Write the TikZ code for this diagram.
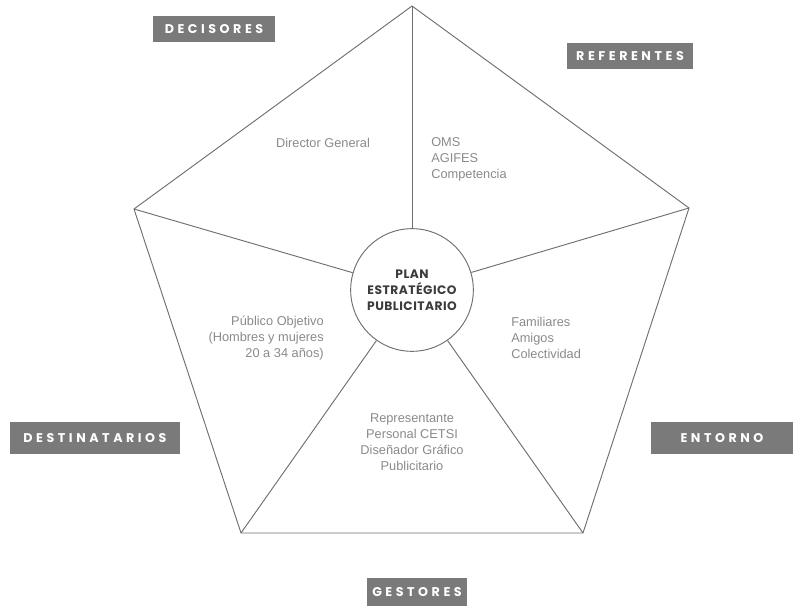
\documentclass[tikz,border=0pt]{standalone}
\usepackage{fontspec}
\setmainfont{Liberation Sans}
\newfontfamily\rolefont[LetterSpace=28]{Poppins}
\newfontfamily\titlefont[LetterSpace=4]{Poppins}
\usetikzlibrary{positioning}
\definecolor{boxgray}{HTML}{7A7A7A}
\definecolor{linegray}{HTML}{6E6E6E}
\definecolor{textgray}{HTML}{8A8A8A}
\definecolor{titlegray}{HTML}{3C3C3C}
\tikzset{%
  role/.style={rectangle, fill=boxgray, text=white, inner sep=0pt, minimum height=20pt,
    font=\rolefont\bfseries\fontsize{9.5}{11}\selectfont},
  % text inside the five areas
  member/.style={text=textgray, inner sep=0pt, font=\fontsize{9.6}{12}\selectfont},
  plan/.style={circle, draw=linegray, line width=0.7pt, fill=white, minimum size=92pt, inner sep=0pt,
    align=center, text=titlegray, font=\titlefont\bfseries\fontsize{9.2}{12}\selectfont},
  edge/.style={draw=linegray, line width=0.7pt}
}

\begin{document}
\begin{tikzpicture}[x=0.75pt, y=-0.75pt]
  \useasboundingbox (0,0) rectangle (804,609);

  % pentagon corners
  \coordinate (top) at (412,6);
  \coordinate (right) at (689,208);
  \coordinate (botright) at (583,533);
  \coordinate (botleft) at (241,533);
  \coordinate (left) at (134,209);

  \node[plan] (center) at (412,290) {PLAN\\ESTRATÉGICO\\PUBLICITARIO};

  \draw[edge] (top) -- (right) -- (botright) -- (botleft) -- (left) -- cycle;
  \draw[edge] (top) -- (center);
  \draw[edge] (right) -- (center);
  \draw[edge] (botright) -- (center);
  \draw[edge] (botleft) -- (center);
  \draw[edge] (left) -- (center);

  % roles
  \node[role, minimum width=91pt] (decisores) at (214,29) {DECISORES};
  \node[role, minimum width=94pt] (referentes) at (630,56) {REFERENTES};
  \node[role, minimum width=127pt, minimum height=24pt] (destinatarios) at (95,438) {DESTINATARIOS};
  \node[role, minimum width=107pt, minimum height=24pt] (entorno) at (722,438) {ENTORNO};
  \node[role, minimum width=75pt, minimum height=21pt] (gestores) at (417,592) {GESTORES};

  % members
  \node[member] (director) at (323,143) {Director General};
  \node[member, align=left, anchor=west] (referentesList) at (431,159) {OMS\\AGIFES\\Competencia};
  \node[member, align=right, anchor=east] (publico) at (324,338) {Público Objetivo\\(Hombres y mujeres\\20 a 34 años)};
  \node[member, align=left, anchor=west] (entornoList) at (511,338) {Familiares\\Amigos\\Colectividad};
  \node[member, align=center] (gestoresList) at (412,442) {Representante\\Personal CETSI\\Diseñador Gráfico\\Publicitario};
\end{tikzpicture}
\end{document}
